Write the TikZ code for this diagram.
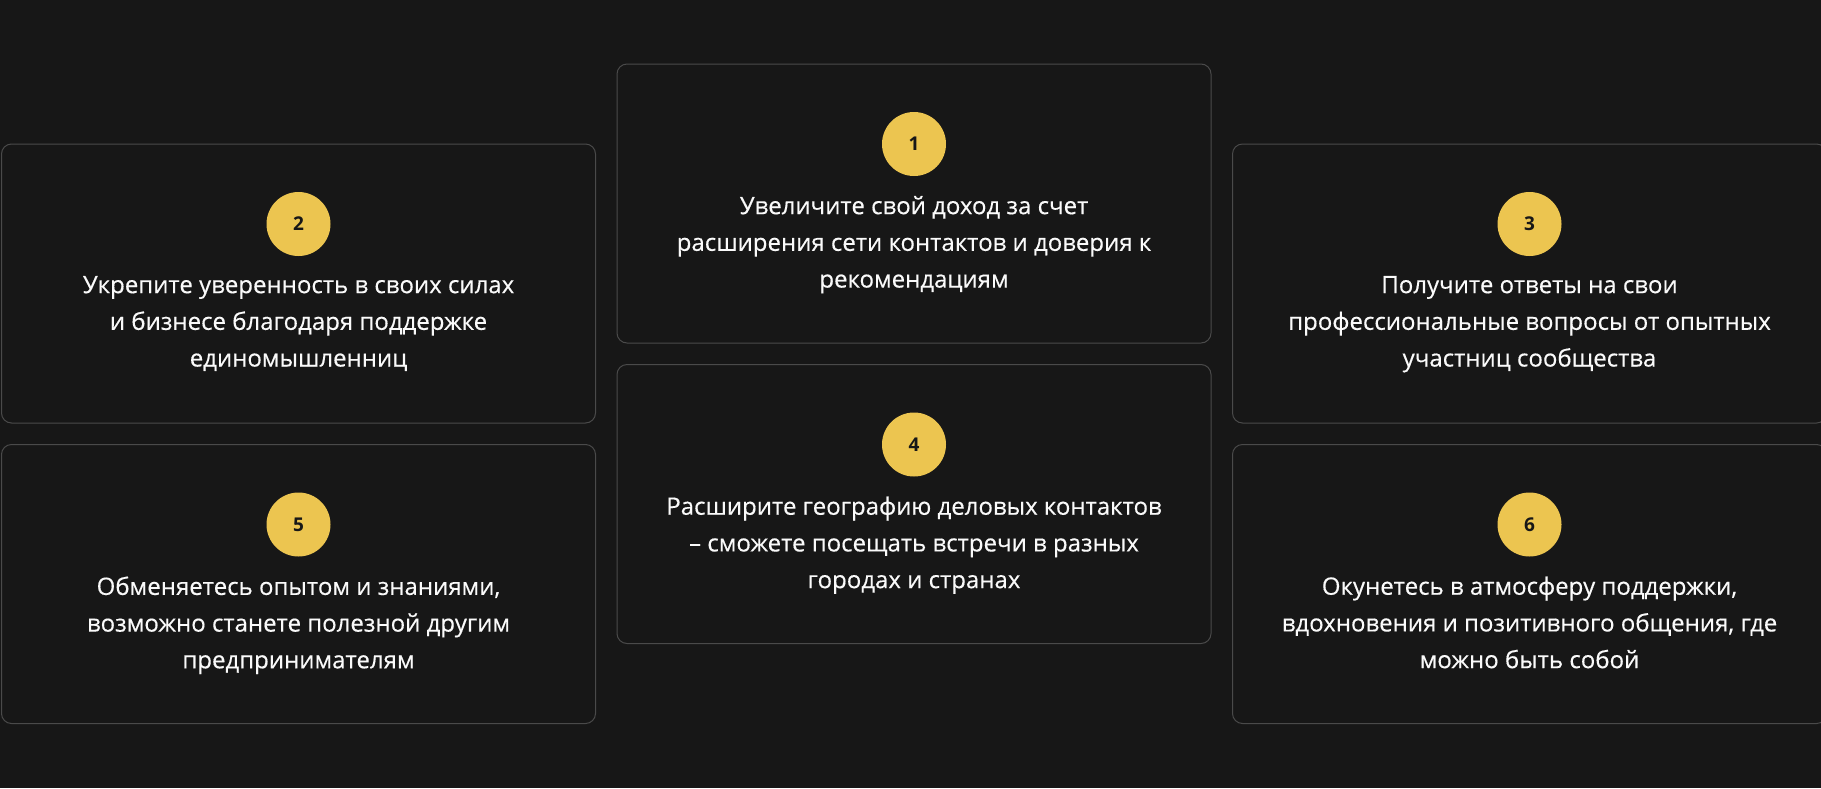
\documentclass[tikz,border=0pt]{standalone}
\usepackage{fontspec}
\setmainfont{Open Sans}
\newfontfamily\cardfont[FakeBold=0.35]{Open Sans}
\usepackage{tikz}
\usetikzlibrary{positioning}

\definecolor{bgdark}{HTML}{171717}
\definecolor{cardline}{HTML}{4A4A4A}
\definecolor{numyellow}{HTML}{ECC550}
\definecolor{textwhite}{HTML}{FAFAFA}

\begin{document}
\begin{tikzpicture}[
                x=1pt, y=-1pt,
                node distance=21.5pt, % Gap between cards
                card/.style={rectangle, draw=cardline, line width=1pt, rounded corners=10pt, fill=bgdark, minimum width=594pt, minimum height=279pt, outer sep=0pt}, % Card frame
                num/.style={circle, fill=numyellow, text=bgdark, minimum size=64pt, inner sep=0pt, outer sep=0pt, font=\fontsize{19}{24}\selectfont\bfseries}, % Yellow number disc
                txt/.style={text=textwhite, align=center, inner sep=0pt, outer sep=0pt, font=\cardfont\fontsize{24}{36.7}\selectfont} % Card text
                ]
                \fill[bgdark] (0,0) rectangle (1821,788);
                \useasboundingbox (0,0) rectangle (1821,788);

                % cards
                \node[card] (card2) at (298.5,283.5) {};
                \node[card, right=of card2, yshift=80pt] (card1) {};
                \node[card, right=of card1, yshift=-80pt] (card3) {};
                \node[card, below=of card2] (card5) {};
                \node[card, below=of card1] (card4) {};
                \node[card, below=of card3] (card6) {};

                % numbers
                \node[num, below=48pt of card1.north] (num1) {1};
                \node[num, below=48pt of card2.north] (num2) {2};
                \node[num, below=48pt of card3.north] (num3) {3};
                \node[num, below=48pt of card4.north] (num4) {4};
                \node[num, below=48pt of card5.north] (num5) {5};
                \node[num, below=48pt of card6.north] (num6) {6};

                % texts
                \node[txt, below=20pt of num1] (txt1) {Увеличите свой доход за счет\\расширения сети контактов и доверия к\\рекомендациям};
                \node[txt, below=20pt of num2] (txt2) {Укрепите уверенность в своих силах\\и бизнесе благодаря поддержке\\единомышленниц};
                \node[txt, below=20pt of num3] (txt3) {Получите ответы на свои\\профессиональные вопросы от опытных\\участниц сообщества};
                \node[txt, below=20pt of num4] (txt4) {Расширите географию деловых контактов\\– сможете посещать встречи в разных\\городах и странах};
                \node[txt, below=20pt of num5] (txt5) {Обменяетесь опытом и знаниями,\\возможно станете полезной другим\\предпринимателям};
                \node[txt, below=20pt of num6] (txt6) {Окунетесь в атмосферу поддержки,\\вдохновения и позитивного общения, где\\можно быть собой};
            \end{tikzpicture}
\end{document}
